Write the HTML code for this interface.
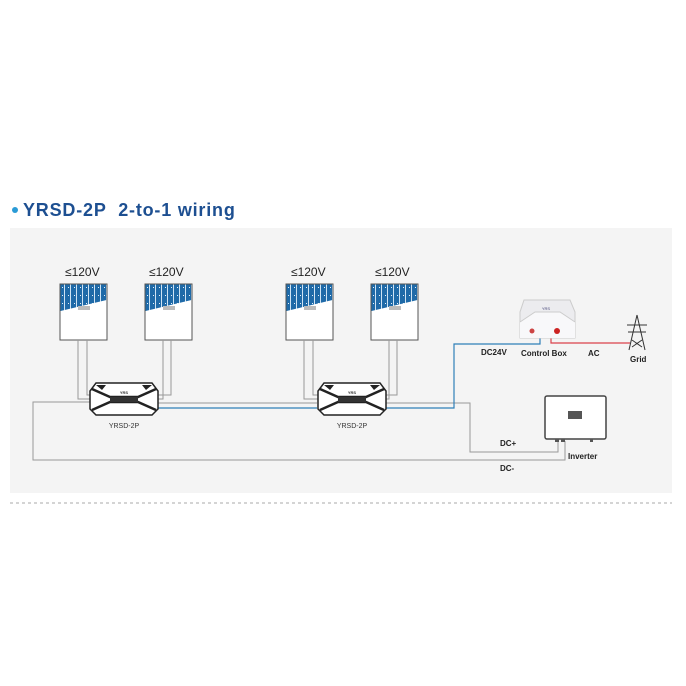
<!DOCTYPE html>
<html><head><style>body{margin:0;background:#fff}svg{display:block}</style></head><body>
<svg width="686" height="686" viewBox="0 0 686 686" xmlns="http://www.w3.org/2000/svg" font-family="Liberation Sans, sans-serif">
<defs>
<pattern id="cells" width="6" height="8" patternUnits="userSpaceOnUse">
<rect width="6" height="8" fill="#1f6aa8"/><rect x="4" width="1" height="8" fill="#cfe3f3"/><rect x="2" y="3" width="1" height="1" fill="#e8f2fa"/>
</pattern>
<g id="panel">
<rect x="0" y="0" width="47" height="56" fill="#fff" stroke="#555" stroke-width="1"/>
<polygon points="0.5,0.5 46.5,0.5 46.5,16 0.5,27" fill="url(#cells)"/>
<rect x="18" y="22" width="12" height="4" fill="#bbb"/>
</g>
<g id="opt">
<path d="M6,0 H62 L68,8 V26 L62,32 H6 L0,26 V8 Z" fill="#fff" stroke="#222" stroke-width="1.5"/>
<path d="M2,6 L20,14 H48 L66,6 M2,27 L20,19 H48 L66,27" fill="none" stroke="#222" stroke-width="2.5"/>
<rect x="20" y="14" width="28" height="5" fill="#333"/>
<polygon points="6,2 16,2 12,7" fill="#222"/><polygon points="62,2 52,2 56,7" fill="#222"/>
<text x="34" y="11" font-size="4" text-anchor="middle" font-weight="bold" fill="#333">YRS</text>
</g>
</defs>
<rect x="10" y="228" width="662" height="265" fill="#f4f4f4"/>
<circle cx="15" cy="210" r="3" fill="#2a9bd6"/>
<text x="23" y="216" font-size="18" font-weight="bold" fill="#1d4f91" letter-spacing="0.8">YRSD-2P&#160;&#160;2-to-1 wiring</text>
<line x1="10" y1="503" x2="672" y2="503" stroke="#aaa" stroke-dasharray="3,3"/>
<g font-size="12" fill="#222">
<text x="65" y="276">≤120V</text><text x="149" y="276">≤120V</text>
<text x="291" y="276">≤120V</text><text x="375" y="276">≤120V</text>
</g>
<use href="#panel" x="60" y="284"/><use href="#panel" x="145" y="284"/>
<use href="#panel" x="286" y="284"/><use href="#panel" x="371" y="284"/>
<g fill="none" stroke="#999" stroke-width="1">
<path d="M78,340 V399 H92 M87,340 V395 H92"/>
<path d="M163,340 V399 H156 M171,340 V395 H156"/>
<path d="M304,340 V399 H318 M313,340 V395 H318"/>
<path d="M389,340 V399 H384 M397,340 V395 H384"/>
<path d="M90,402 H33 V460 H565 V441"/>
<path d="M158,403 H317"/>
<path d="M386,403 H470 V452 H558 V441"/>
</g>
<g fill="none" stroke="#2f7fb8" stroke-width="1.2">
<path d="M158,408 H317"/><path d="M386,408 H454 V344 H540 V338"/>
</g>
<path d="M551,338 V343 H630" fill="none" stroke="#d9424a" stroke-width="1.2"/>
<use href="#opt" x="90" y="383"/><use href="#opt" x="318" y="383"/>
<g font-size="7" fill="#333" text-anchor="middle"><text x="124" y="428">YRSD-2P</text><text x="352" y="428">YRSD-2P</text></g>
<path d="M524,300 H570 L575,312 V338 H520 V312 Z" fill="#ececef" stroke="#ccc"/>
<path d="M520,322 L535,312 H560 L575,322 V338 H520 Z" fill="#f8f8fa"/>
<path d="M520,322 L535,312 H560 L575,322" fill="none" stroke="#ccc"/>
<text x="546" y="310" font-size="4" fill="#447" text-anchor="middle">YRS</text>
<circle cx="532" cy="331" r="2.5" fill="#c44"/><circle cx="557" cy="331" r="3" fill="#c22"/>
<g fill="none" stroke="#333" stroke-width="1">
<path d="M637,315 L629,350 M637,315 L645,350 M627,325 H647 M628,332 H646 M632,340 L642,347 M642,340 L632,347"/>
</g>
<rect x="545" y="396" width="61" height="43" rx="2" fill="#fff" stroke="#444" stroke-width="1.5"/>
<rect x="568" y="411" width="14" height="8" fill="#555"/>
<rect x="555" y="439" width="4" height="3" fill="#555"/><rect x="561" y="439" width="4" height="3" fill="#555"/><rect x="590" y="439" width="3" height="3" fill="#555"/>
<g font-size="8" font-weight="bold" fill="#222">
<text x="481" y="355">DC24V</text><text x="521" y="356">Control Box</text><text x="588" y="356">AC</text>
<text x="630" y="362">Grid</text><text x="500" y="446">DC+</text><text x="568" y="459">Inverter</text><text x="500" y="471">DC-</text>
</g>
</svg>
</body></html>
